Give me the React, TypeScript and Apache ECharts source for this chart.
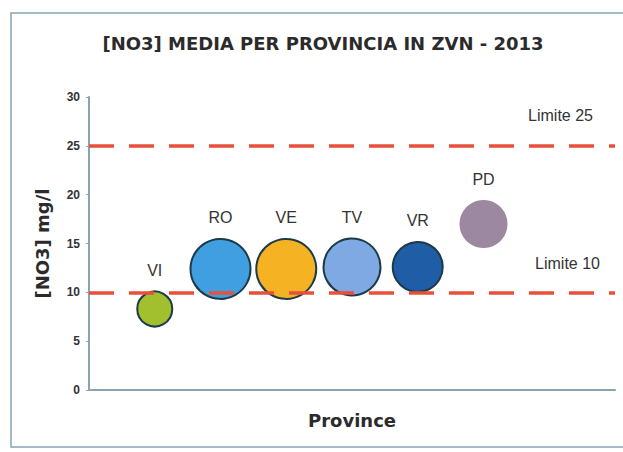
import React, { useEffect, useRef } from "react";
import * as echarts from "echarts";

const provinces = ["VI", "RO", "VE", "TV", "VR", "PD"];
const positions = [1, 2, 3, 4, 5, 6];
const no3Values = [8.3, 12.4, 12.4, 12.6, 12.6, 17.0];
const bubbleSizes = [35, 60, 60, 57, 50, 48];
const limits = [25, 10];
const limitLabels = ["Limite 25", "Limite 10"];
const yTicks = [0, 5, 10, 15, 20, 25, 30];

const palette = ["#a2bf2e", "#3f9fe0", "#f5b222", "#7fa9e2", "#1f5da6", "#9c88a0"];
const borderColors = ["#1c3a48", "#1c3a48", "#1c3a48", "#1c3a48", "#1c3a48", "transparent"];
const limitLabelPadding = [
  [0, 17, 17, 0],
  [0, 10, 16, 0],
];

export default function App() {
  const ref = useRef<HTMLDivElement>(null);
  useEffect(() => {
    if (!ref.current) return;
    const chart = echarts.init(ref.current, null, { renderer: "svg" });
    const data = provinces.map((p, i) => ({
      name: p,
      value: [positions[i], no3Values[i], bubbleSizes[i]],
      itemStyle: {
        color: palette[i],
        borderColor: borderColors[i],
        borderWidth: borderColors[i] === "transparent" ? 0 : 2,
        opacity: 1,
      },
    }));
    chart.setOption({
      animation: false,
      backgroundColor: "#ffffff",
      title: {
        text: "[NO3] MEDIA PER PROVINCIA IN ZVN - 2013",
        left: 318,
        top: 29,
        textAlign: "center",
        textStyle: {
          fontFamily: "DejaVu Sans",
          fontWeight: "bold",
          fontSize: 18,
          color: "#2b2b2b",
        },
      },
      graphic: [
        {
          type: "rect",
          shape: { x: 11, y: 13, width: 640, height: 434 },
          style: { fill: "none", stroke: "#8aa3b2", lineWidth: 1.5 },
          silent: true,
        },
      ],
      grid: { left: 89, top: 97, right: 8, bottom: 62 },
      xAxis: {
        type: "value",
        min: 0,
        max: 8,
        name: "Province",
        nameLocation: "middle",
        nameGap: 21,
        nameTextStyle: {
          fontFamily: "DejaVu Sans",
          fontWeight: "bold",
          fontSize: 18,
          color: "#2b2b2b",
        },
        axisLine: { lineStyle: { color: "#8aa3b2", width: 2 } },
        axisTick: { show: false },
        axisLabel: { show: false },
        splitLine: { show: false },
      },
      yAxis: {
        type: "value",
        min: yTicks[0],
        max: yTicks[yTicks.length - 1],
        interval: 5,
        name: "[NO3] mg/l",
        nameLocation: "middle",
        nameGap: 38,
        nameRotate: 90,
        nameTextStyle: {
          fontFamily: "DejaVu Sans",
          fontWeight: "bold",
          fontSize: 18,
          color: "#2b2b2b",
        },
        axisLine: { show: true, lineStyle: { color: "#8aa3b2", width: 2 } },
        axisTick: { show: true, length: 3, lineStyle: { color: "#8aa3b2" } },
        axisLabel: {
          margin: 9,
          fontFamily: "Liberation Sans",
          fontSize: 12,
          fontWeight: "bold",
          color: "#333",
        },
        splitLine: { show: false },
      },
      series: [
        {
          type: "scatter",
          data,
          symbolSize: (v: number[]) => v[2],
          label: {
            show: true,
            position: "top",
            distance: 12,
            formatter: (p: any) => p.name,
            fontFamily: "Liberation Sans",
            fontSize: 16,
            color: "#333",
          },
          markLine: {
            silent: true,
            symbol: "none",
            lineStyle: { color: "#e8503a", width: 3.5, type: [25, 15], opacity: 1 },
            label: {
              show: true,
              position: "insideEndTop",
              formatter: (p: any) => p.name,
              fontFamily: "Liberation Sans",
              fontSize: 16,
              color: "#333",
            },
            data: limits.map((l, i) => ({
              yAxis: l,
              name: limitLabels[i],
              label: { padding: limitLabelPadding[i] },
            })),
          },
          z: 3,
        },
      ],
    });
    return () => chart.dispose();
  }, []);
  return (
    <div
      ref={ref}
      style={{ position: "absolute", left: 0, top: 0, width: 623, height: 452 }}
    />
  );
}
